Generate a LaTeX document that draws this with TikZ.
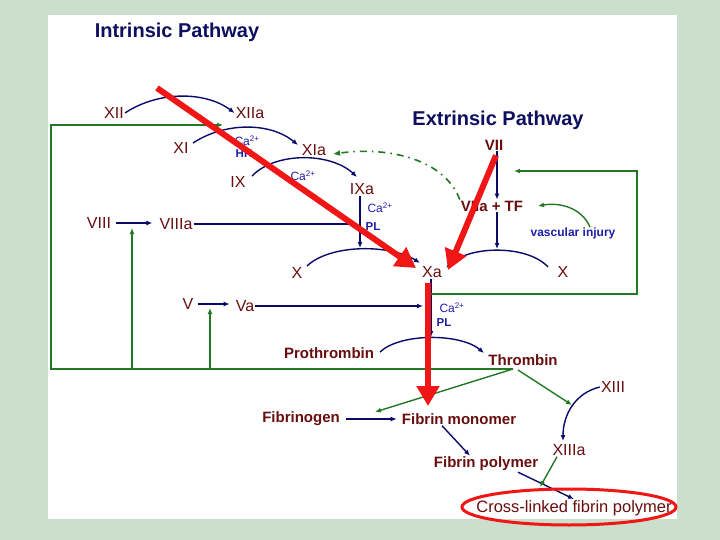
\documentclass[tikz,border=0pt]{standalone}
\usepackage{fontspec}
\setmainfont{Liberation Sans}
\usetikzlibrary{arrows.meta}
\definecolor{cMar}{RGB}{105,14,14}
\definecolor{cNavy}{RGB}{10,10,105}
\definecolor{cTitle}{RGB}{15,15,95}
\definecolor{cBlue}{RGB}{30,30,170}
\definecolor{cGreen}{RGB}{35,120,35}
\definecolor{cRed}{RGB}{240,22,22}
\definecolor{cBg}{RGB}{204,222,204}
\begin{document}
\begin{tikzpicture}[x=1pt,y=-1pt,
  title/.style={text=cTitle, font=\bfseries\fontsize{20}{22}\selectfont, inner sep=1pt},
  lab/.style={text=cMar, font=\fontsize{16}{18}\selectfont, inner sep=1pt},
  labb/.style={text=cMar, font=\bfseries\fontsize{15}{17}\selectfont, inner sep=1pt},
  small/.style={text=cBlue, font=\fontsize{12}{13}\selectfont, inner sep=0pt},
  smallb/.style={text=cBlue, font=\bfseries\fontsize{11.5}{12}\selectfont, inner sep=0pt},
  navy/.style={draw=cNavy, line width=1.4pt, -{Latex[length=6pt,width=5pt]}},
  grn/.style={draw=cGreen, line width=1.4pt, -{Latex[length=6pt,width=5pt]}},
  redarr/.style={draw=cRed, line width=6pt, -{Triangle[length=20pt,width=22pt]}}]
\useasboundingbox (0,0) rectangle (720,540);
\fill[cBg] (0,0) rectangle (720,540);
\fill[white] (48,15) rectangle (677,519);

% titles
\node[title] (tI) at (177,32) {Intrinsic Pathway};
\node[title] (tE) at (498,120) {Extrinsic Pathway};

% factors
\node[lab] (XII) at (114,113) {XII};
\node[lab] (XIIa) at (250,113) {XIIa};
\node[lab] (XI) at (181,148) {XI};
\node[lab] (XIa) at (314,150) {XIa};
\node[lab] (IX) at (238,182) {IX};
\node[lab] (IXa) at (362,189) {IXa};
\node[lab] (VIII) at (99,223) {VIII};
\node[lab] (VIIIa) at (176,224) {VIIIa};
\node[lab] (Xl) at (297,273) {X};
\node[lab] (Xa) at (432,272) {Xa};
\node[lab] (Xr) at (563,272) {X};
\node[labb] (VII) at (494,145) {VII};
\node[labb] (VIIa) at (492,206) {VIIa + TF};
\node[smallb, font=\bfseries\fontsize{12}{13}\selectfont] (vi) at (573,233) {vascular injury};
\node[lab] (V) at (188,304) {V};
\node[lab] (Va) at (245,306) {Va};
\node[labb] (Pro) at (329,353) {Prothrombin};
\node[labb] (Thr) at (523,360) {Thrombin};
\node[lab] (XIII) at (613,387) {XIII};
\node[labb] (Fgn) at (301,419) {Fibrinogen};
\node[labb] (FM) at (459,419) {Fibrin monomer};
\node[lab] (XIIIa) at (569,450) {XIIIa};
\node[labb] (FP) at (486,464) {Fibrin polymer};
\node[lab, font=\fontsize{16.5}{18}\selectfont] (CL) at (574,508) {Cross-linked fibrin polymer};

% cofactors
\node[small] (ca1) at (247,141) {Ca\textsuperscript{2+}};
\node[smallb] (hk) at (244,154) {HK};
\node[small] (ca2) at (303,176) {Ca\textsuperscript{2+}};
\node[small] (ca3) at (380,208) {Ca\textsuperscript{2+}};
\node[smallb] (pl1) at (373,227) {PL};
\node[small] (ca4) at (452,308) {Ca\textsuperscript{2+}};
\node[smallb] (pl2) at (444,323) {PL};

% helper coordinates on arcs / lines
\coordinate (lpk) at (360,248);
\coordinate (rpk) at (497,249);
\coordinate (ppk) at (431,337);
\coordinate (xis) at (193,143);
\coordinate (xie) at (298,145);
\coordinate (ixs) at (252,176);
\coordinate (ixe) at (357,177);
\coordinate (xls) at (307,266);
\coordinate (xle) at (420,263);
\coordinate (xrs) at (548,267);
\coordinate (xre) at (446,268);
\coordinate (prs) at (380,352);
\coordinate (pre) at (484,353);
\coordinate (g1) at (513,369);
\coordinate (g2) at (51,369);
\coordinate (g3) at (51,125);
\coordinate (g4) at (223,125);
\coordinate (g8b) at (132,369);
\coordinate (g8t) at (132,228);
\coordinate (g5b) at (210,369);
\coordinate (g5t) at (210,308);
\coordinate (e1) at (431,294);
\coordinate (e2) at (637,294);
\coordinate (e3) at (637,171);
\coordinate (e4) at (514,171);
\coordinate (t1) at (375,412);
\coordinate (t2) at (518,370);
\coordinate (t3) at (572,405);
\coordinate (x13e) at (563,441);
\coordinate (x13g) at (540,487);

% intrinsic cascade arcs
\draw[navy] (XII.east) .. controls (158,91) and (205,91) .. (XIIa.west);
\draw[navy] (xis) .. controls (225,122) and (270,122) .. (xie);
\draw[navy] (ixs) .. controls (275,152) and (330,152) .. (ixe);
\draw[navy, shorten <=4pt, shorten >=6pt] (VIII.east) -- (VIII.east -| VIIIa.west);
\draw[navy, shorten >=2pt] (VIIIa.east) -- (VIIIa.east -| lpk);
\draw[navy] (IXa.south -| lpk) -- (lpk);
\draw[navy] (xls) .. controls (330,244) and (390,244) .. (xle);
\draw[navy] (xrs) .. controls (528,245) and (470,245) .. (xre);
\draw[navy] (VII.south -| rpk) -- (VIIa.north -| rpk);
\draw[navy] (VIIa.south -| rpk) -- (rpk);
\draw[navy, shorten <=3pt, shorten >=5pt] (V.east) -- (V.east -| Va.west);
\draw[navy, shorten >=8pt] (Va.east) -- (Va.east -| ppk);
\draw[navy] (Xa.south -| ppk) -- (ppk);
\draw[navy] (prs) .. controls (400,333) and (460,333) .. (pre);
\draw[navy] (XIII.west) .. controls (575,393) and (563,415) .. (x13e);
\draw[navy, shorten <=5pt, shorten >=4pt] (Fgn.east) -- (FM.west);
\draw[navy] ([xshift=-17pt]FM.south) -- ([xshift=-16pt]FP.north);
\draw[navy] ([xshift=32pt]FP.south) -- (CL.north);

% green feedback
\draw[grn] (g1) -- (g2) -- (g3) -- (g4);
\draw[grn] (g8b) -- (g8t);
\draw[grn] (g5b) -- (g5t);
\draw[grn] (e1) -- (e2) -- (e3) -- (e4);
\draw[grn] (g1) -- (t1);
\draw[grn] (t2) -- (t3);
\draw[grn] ([xshift=-12pt]XIIIa.south) -- (x13g);
\draw[grn] ([xshift=17pt]vi.north) .. controls (582,208) and (560,202) .. (538,206);
\draw[draw=cGreen, line width=1.6pt, dash pattern=on 7pt off 5pt on 1.5pt off 5pt,
  -{Latex[length=7pt,width=6pt]}] (VIIa.north west) .. controls (445,160) and (390,146) .. (333,154);

% red highlights
\draw[redarr] (157,88) -- (416,268);
\draw[redarr] (VII.south) ++(2,4) -- (448,270);
\draw[redarr] (428,283) -- (428,406);
\draw[cRed, line width=3pt] (569,507) ellipse [x radius=107, y radius=18];
\end{tikzpicture}
\end{document}
